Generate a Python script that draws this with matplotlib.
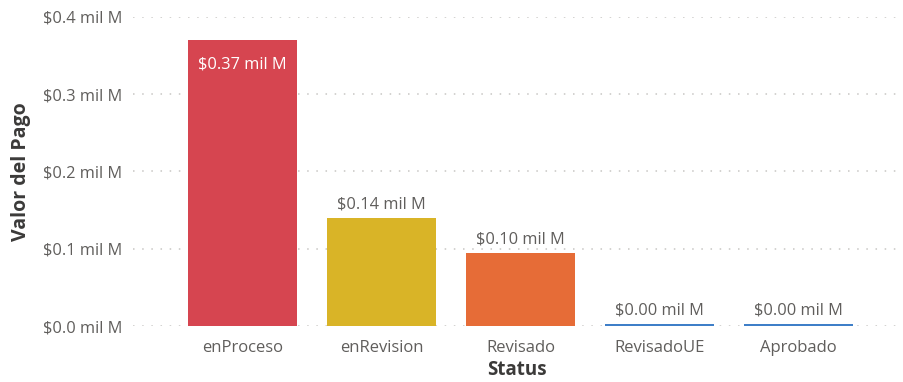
import matplotlib
matplotlib.use("Agg")
import matplotlib.pyplot as plt

status = ["enProceso", "enRevision", "Revisado", "RevisadoUE", "Aprobado"]
valor_pago = [0.37, 0.14, 0.095, 0.002, 0.002]
etiquetas = ["$0.37 mil M", "$0.14 mil M", "$0.10 mil M", "$0.00 mil M", "$0.00 mil M"]
colores = ["#D64550", "#D9B427", "#E66C37", "#3F7FC8", "#3F7FC8"]
yticks = [0.0, 0.1, 0.2, 0.3, 0.4]
ytick_labels = ["$0.0 mil M", "$0.1 mil M", "$0.2 mil M", "$0.3 mil M", "$0.4 mil M"]

plt.rcParams["font.family"] = ["Open Sans", "DejaVu Sans"]

fig = plt.figure(figsize=(9.04, 3.82), dpi=100)
ax = fig.add_axes([133 / 904, 1 - 326 / 382, (900 - 133) / 904, (326 - 17) / 382])

x = range(len(status))
bars = ax.bar(x, valor_pago, width=0.785, color=colores, zorder=3)

ax.set_ylim(0, 0.4)
ax.set_xlim(-0.79, 4.73)
ax.set_yticks(yticks)
ax.set_yticklabels(ytick_labels, fontsize=11.8, color="#605E5C")
ax.set_xticks(list(x))
ax.set_xticklabels(status, fontsize=12, color="#605E5C")
ax.tick_params(axis="both", length=0)
ax.tick_params(axis="y", pad=8)
ax.tick_params(axis="x", pad=10)

ax.grid(axis="y", color="#C8C6C4", linestyle=(0, (1, 5)), linewidth=1.1, zorder=0)
for s in ax.spines.values():
    s.set_visible(False)

for i, (v, lab) in enumerate(zip(valor_pago, etiquetas)):
    if v > 0.3:
        ax.annotate(lab, (i, v), xytext=(0, -12), textcoords="offset points",
                    ha="center", va="top", fontsize=11.8, color="white", zorder=4)
    else:
        ax.annotate(lab, (i, v), xytext=(0, 4), textcoords="offset points",
                    ha="center", va="bottom", fontsize=11.8, color="#605E5C", zorder=4)

ax.set_ylabel("Valor del Pago", fontsize=14, fontweight="bold", color="#3B3A39", labelpad=8)
ax.set_xlabel("Status", fontsize=13.5, fontweight="bold", color="#3B3A39", labelpad=3)

fig.savefig("out.png", dpi=100)
